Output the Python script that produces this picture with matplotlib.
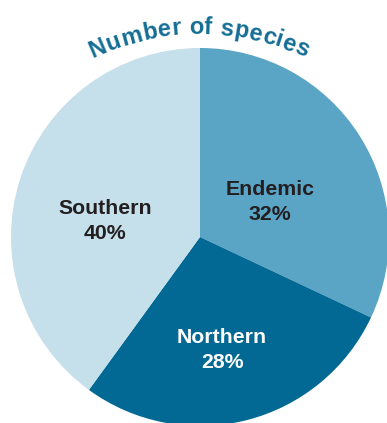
import numpy as np
import matplotlib
matplotlib.use("Agg")
import matplotlib.pyplot as plt
from matplotlib.font_manager import FontProperties

# data
groups = ["Endemic", "Northern", "Southern"]
shares = [32, 28, 40]
colors = ["#5aa4c6", "#026894", "#c5dfeb"]
text_colors = ["#231f20", "white", "#231f20"]
title = "Number of species"

W, H = 387, 423
fig = plt.figure(figsize=(W / 100, H / 100), dpi=100)
ax = fig.add_axes([0, 0, 1, 1])

# pie (pixel coords, y up)
cx, cy, r = 200, H - 237, 189
ax.pie(shares, colors=colors, startangle=90, counterclock=False,
       center=(cx, cy), radius=r, frame=True,
       wedgeprops=dict(linewidth=0))
ax.set_xlim(0, W)
ax.set_ylim(0, H)
ax.set_aspect("equal")
ax.axis("off")

# slice labels
label_pos = [(270, H - 202), (222, H - 350), (105, H - 221)]
for g, v, (x, y), tc in zip(groups, shares, label_pos, text_colors):
    ax.text(x, y, f"{g}\n{v}%", ha="center", va="center", color=tc,
            fontsize=15.3, fontweight="bold", family="Liberation Sans",
            linespacing=1.4)

# curved title
fp = FontProperties(family="Liberation Sans", weight="bold", size=17)
rend = fig.canvas.get_renderer()
def width(s):
    if not s:
        return 0.0
    return rend.get_text_width_height_descent(s.replace(" ", "\u00a0"), fp, ismath=False)[0]

R = 250
acx, acy = 199, H - (34 + R)
track = 0.5
n = len(title)
total = width(title) + track * (n - 1)
for i, ch in enumerate(title):
    if ch == " ":
        continue
    s = width(title[:i]) + track * i + width(ch) / 2
    ang = np.pi / 2 + (total / 2 - s) / R
    x = acx + R * np.cos(ang)
    y = acy + R * np.sin(ang)
    ax.text(x, y, ch, fontproperties=fp, color="#146e95", ha="center",
            va="baseline", rotation=np.degrees(ang) - 90,
            rotation_mode="anchor")

fig.savefig("out.png", dpi=100)
